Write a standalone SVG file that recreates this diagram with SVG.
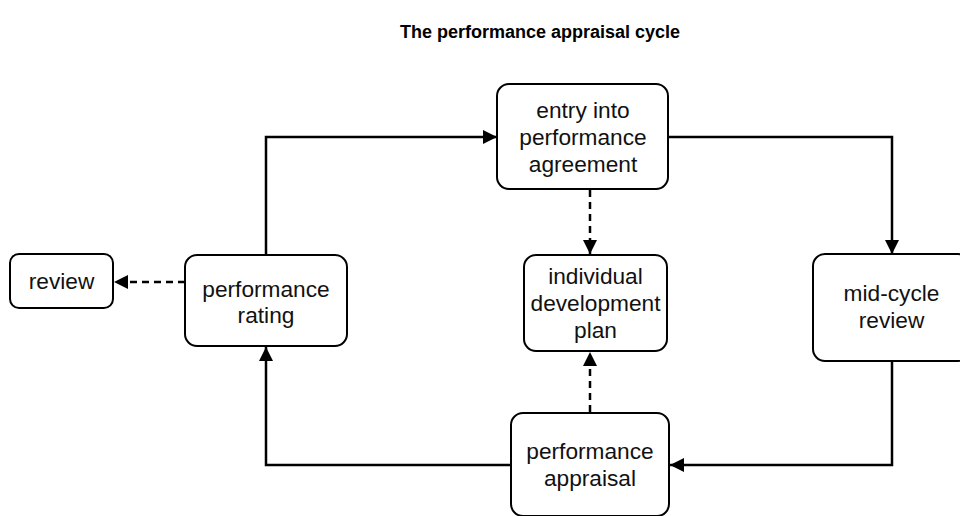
<svg xmlns="http://www.w3.org/2000/svg" width="960" height="516" viewBox="0 0 960 516">
<defs>
<marker id="arr" markerUnits="userSpaceOnUse" markerWidth="14" markerHeight="14" refX="14" refY="7" orient="auto">
<path d="M0,0 L14,7 L0,14 Z" fill="#000"/>
</marker>
<style>
.box{fill:#fff;stroke:#000;stroke-width:2}
.t{font-family:"Liberation Sans",Arial,sans-serif;font-size:22.7px;fill:#111;text-anchor:middle}
.title{font-family:"Liberation Sans",Arial,sans-serif;font-size:18px;font-weight:bold;fill:#000;text-anchor:middle}
.c{fill:none;stroke:#000;stroke-width:2.5}
.d{fill:none;stroke:#000;stroke-width:2.5;stroke-dasharray:7,5}
</style>
</defs>
<rect width="960" height="516" fill="#fff"/>
<text class="title" x="540" y="38">The performance appraisal cycle</text>
<g id="connectors">
<polyline class="c" points="266,255 266,137 497,137" marker-end="url(#arr)"/>
<polyline class="c" points="668,137 892,137 892,254" marker-end="url(#arr)"/>
<polyline class="c" points="892,361 892,465 670,465" marker-end="url(#arr)"/>
<polyline class="c" points="511,465 266,465 266,347" marker-end="url(#arr)"/>
<line class="d" x1="590" y1="190" x2="590" y2="254" marker-end="url(#arr)"/>
<line class="d" x1="590" y1="412" x2="590" y2="352" marker-end="url(#arr)"/>
<line class="d" x1="185" y1="282" x2="114" y2="282" marker-end="url(#arr)"/>
</g>
<g id="review">
<rect class="box" x="10" y="254" width="103" height="54" rx="9"/>
<text class="t" x="61.5" y="289">review</text>
</g>
<g id="performance-rating">
<rect class="box" x="185" y="255" width="162" height="91" rx="12"/>
<text class="t" x="266" y="297">performance</text>
<text class="t" x="266" y="323">rating</text>
</g>
<g id="entry">
<rect class="box" x="497" y="84" width="171" height="105" rx="12"/>
<text class="t" x="583" y="118">entry into</text>
<text class="t" x="583" y="145">performance</text>
<text class="t" x="583" y="172">agreement</text>
</g>
<g id="idp">
<rect class="box" x="524" y="255" width="143" height="96" rx="12"/>
<text class="t" x="595.5" y="284">individual</text>
<text class="t" x="595.5" y="311">development</text>
<text class="t" x="595.5" y="338">plan</text>
</g>
<g id="performance-appraisal">
<rect class="box" x="511" y="413" width="158" height="103" rx="12"/>
<text class="t" x="590" y="459">performance</text>
<text class="t" x="590" y="486">appraisal</text>
</g>
<g id="mid-cycle-review">
<rect class="box" x="813" y="254" width="157" height="107" rx="12"/>
<text class="t" x="891.5" y="301">mid-cycle</text>
<text class="t" x="891.5" y="328">review</text>
</g>
</svg>
